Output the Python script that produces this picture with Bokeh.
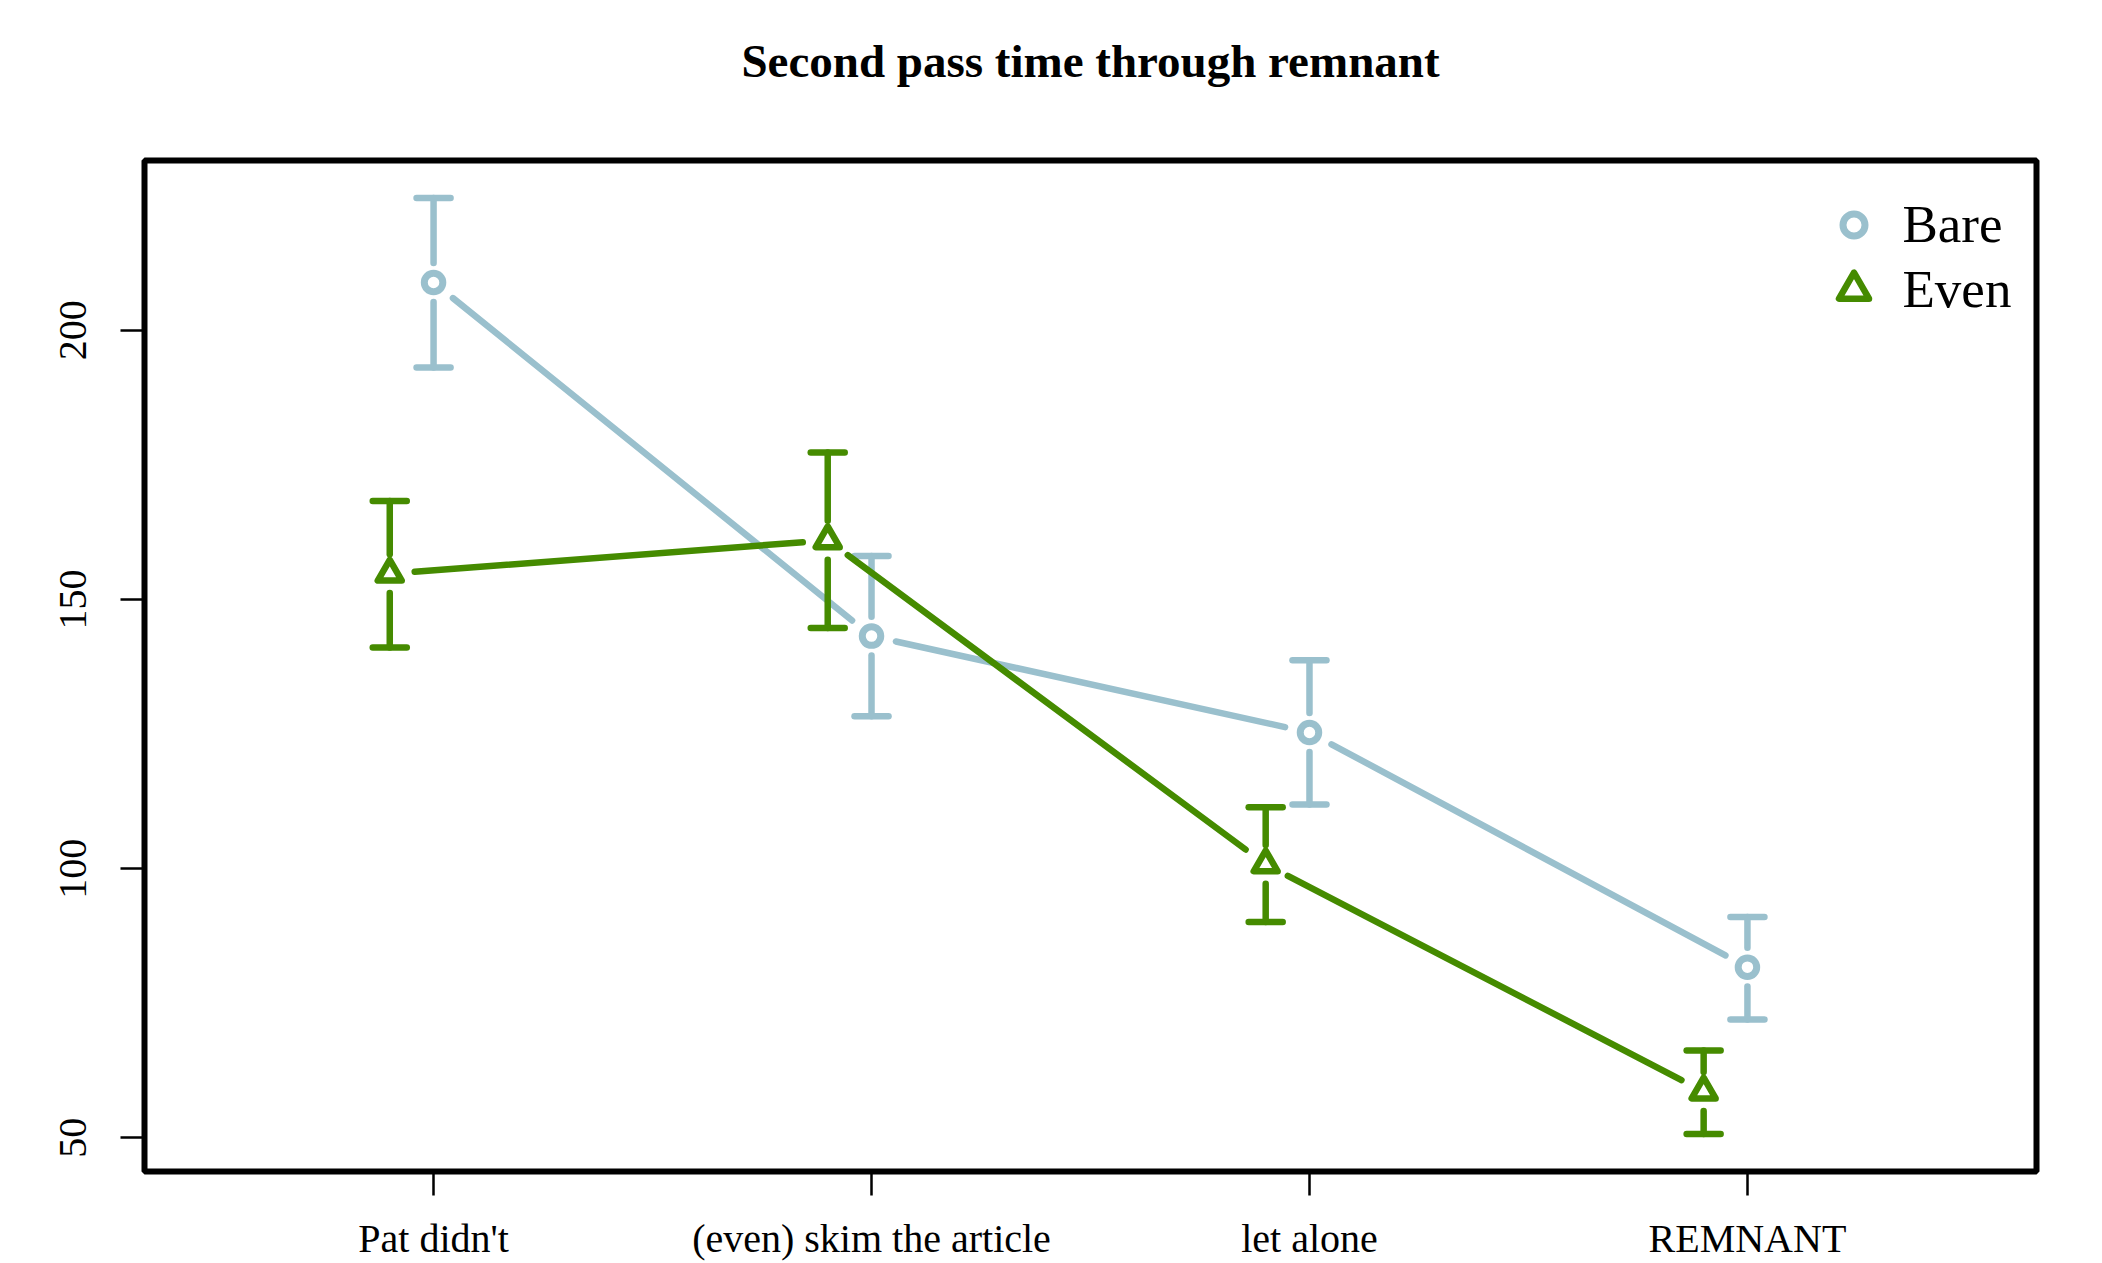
import numpy as np
from bokeh.plotting import figure
from bokeh.models import Range1d, FixedTicker, Legend, LegendItem, Title
from bokeh.embed import file_html
from bokeh.resources import INLINE

# ---------------- data ----------------
categories = ["Pat didn't", "(even) skim the article", "let alone", "REMNANT"]
series_names = ["Bare", "Even"]
bare_mean = [208.9, 143.2, 125.3, 81.7]
bare_upper = [224.6, 158.1, 138.7, 91.0]
bare_lower = [193.1, 128.3, 111.9, 72.0]
even_mean = [154.8, 161.0, 100.8, 58.6]
even_upper = [168.3, 177.3, 111.4, 66.2]
even_lower = [141.1, 144.7, 90.1, 50.7]
y_ticks = [50, 100, 150, 200]
title_text = "Second pass time through remnant"

# ---------------- layout / style ----------------
W, H = 2102, 1263
BL, BR, BT, BB = 144, 66, 160, 89
FRAME_W = W - BL - BR
FRAME_H = H - BT - BB
FONT = "Liberation Serif"
BARE_COL = "#9AC0CD"
EVEN_COL = "#458B00"
LW = 6.5
LINE_GAP = 25.0   # px, gap between point and connecting line end
ERR_GAP = 19.5    # px, gap between point and error bar end
CAP_HALF = 17.0   # px
DODGE = {"Bare": 0.0, "Even": -0.1}

n = len(categories)
pos = np.arange(1, n + 1, dtype=float)
x_lo, x_hi = 0.5 - 0.04 * n, n + 0.5 + 0.04 * n
all_lo = min(bare_lower + even_lower)
all_hi = max(bare_upper + even_upper)
ext = 0.04 * (all_hi - all_lo)
y_lo, y_hi = all_lo - ext, all_hi + ext
ppx = FRAME_W / (x_hi - x_lo)
ppy = FRAME_H / (y_hi - y_lo)

p = figure(width=W, height=H, x_range=Range1d(x_lo, x_hi), y_range=Range1d(y_lo, y_hi),
           output_backend="svg", toolbar_location=None, title=None,
           min_border_left=BL, min_border_right=BR, min_border_top=BT, min_border_bottom=BB)
p.xgrid.visible = False
p.ygrid.visible = False
p.outline_line_color = "black"
p.outline_line_width = 6
p.background_fill_color = "white"
p.border_fill_color = "white"

# blank spacer next to the frame, then the title further out
p.add_layout(Title(text=" ", text_font=FONT, text_font_size="40px", standoff=22,
                   text_color="white"), "above")
p.add_layout(Title(text=title_text, align="center", text_font=FONT, text_font_style="bold",
                   text_font_size="47px", text_color="black"), "above")

# axes
p.yaxis.ticker = FixedTicker(ticks=y_ticks)
p.yaxis.major_label_orientation = "vertical"
p.yaxis.major_label_standoff = 34
p.xaxis.ticker = FixedTicker(ticks=list(pos))
p.xaxis.major_label_overrides = {float(k): c for k, c in zip(pos, categories)}
p.xaxis.major_label_overrides.update({int(k): c for k, c in zip(pos, categories)})
p.xaxis.major_label_standoff = 20
for ax in (p.xaxis, p.yaxis):
    ax.axis_line_color = None
    ax.major_tick_out = 24
    ax.major_tick_in = 0
    ax.major_tick_line_width = 2.5
    ax.major_tick_line_color = "black"
    ax.minor_tick_line_color = None
    ax.major_label_text_font = FONT
    ax.major_label_text_font_size = "40px"
    ax.major_label_text_color = "black"


def draw_series(name, mean, upper, lower, color, marker, msize, mlw):
    xs = pos + DODGE[name]
    ys = np.array(mean, dtype=float)
    up = np.array(upper, dtype=float)
    lo = np.array(lower, dtype=float)
    # connecting lines with gaps around the points
    x0, y0, x1, y1 = [], [], [], []
    for i in range(n - 1):
        dx = (xs[i + 1] - xs[i]) * ppx
        dy = (ys[i + 1] - ys[i]) * ppy
        L = np.hypot(dx, dy)
        ux, uy = dx / L * LINE_GAP / ppx, dy / L * LINE_GAP / ppy
        x0.append(xs[i] + ux); y0.append(ys[i] + uy)
        x1.append(xs[i + 1] - ux); y1.append(ys[i + 1] - uy)
    p.segment(x0=x0, y0=y0, x1=x1, y1=y1, line_color=color, line_width=LW, line_cap="round")
    # error bars
    g = ERR_GAP / ppy
    p.segment(x0=xs, y0=ys + g, x1=xs, y1=up, line_color=color, line_width=LW, line_cap="round")
    p.segment(x0=xs, y0=lo, x1=xs, y1=ys - g, line_color=color, line_width=LW, line_cap="round")
    c = CAP_HALF / ppx
    p.segment(x0=xs - c, y0=up, x1=xs + c, y1=up, line_color=color, line_width=LW, line_cap="round")
    p.segment(x0=xs - c, y0=lo, x1=xs + c, y1=lo, line_color=color, line_width=LW, line_cap="round")
    r = p.scatter(x=xs, y=ys, marker=marker, size=msize, fill_color=None,
                  line_color=color, line_width=mlw, line_join="round")
    return r


r_bare = draw_series("Bare", bare_mean, bare_upper, bare_lower, BARE_COL, "circle", 18.5, 7)
r_even = draw_series("Even", even_mean, even_upper, even_lower, EVEN_COL, "triangle", 24, 6.5)

# legends (one per entry so that marker sizes can differ)
leg_a = Legend(items=[LegendItem(label=series_names[0], renderers=[r_bare])],
               location=(1681.5, 914.5), glyph_width=55, glyph_height=65, label_height=65,
               label_standoff=22, padding=0, margin=0, spacing=0,
               border_line_color=None, background_fill_alpha=0,
               label_text_font=FONT, label_text_font_size="53px", label_text_color="black")
leg_b = Legend(items=[LegendItem(label=series_names[1], renderers=[r_even])],
               location=(1671.5, 844.5), glyph_width=75, glyph_height=75, label_height=75,
               label_standoff=12, padding=0, margin=0, spacing=0,
               border_line_color=None, background_fill_alpha=0,
               label_text_font=FONT, label_text_font_size="53px", label_text_color="black")
p.add_layout(leg_a)
p.add_layout(leg_b)

open("out.html", "w").write(file_html(p, INLINE))
